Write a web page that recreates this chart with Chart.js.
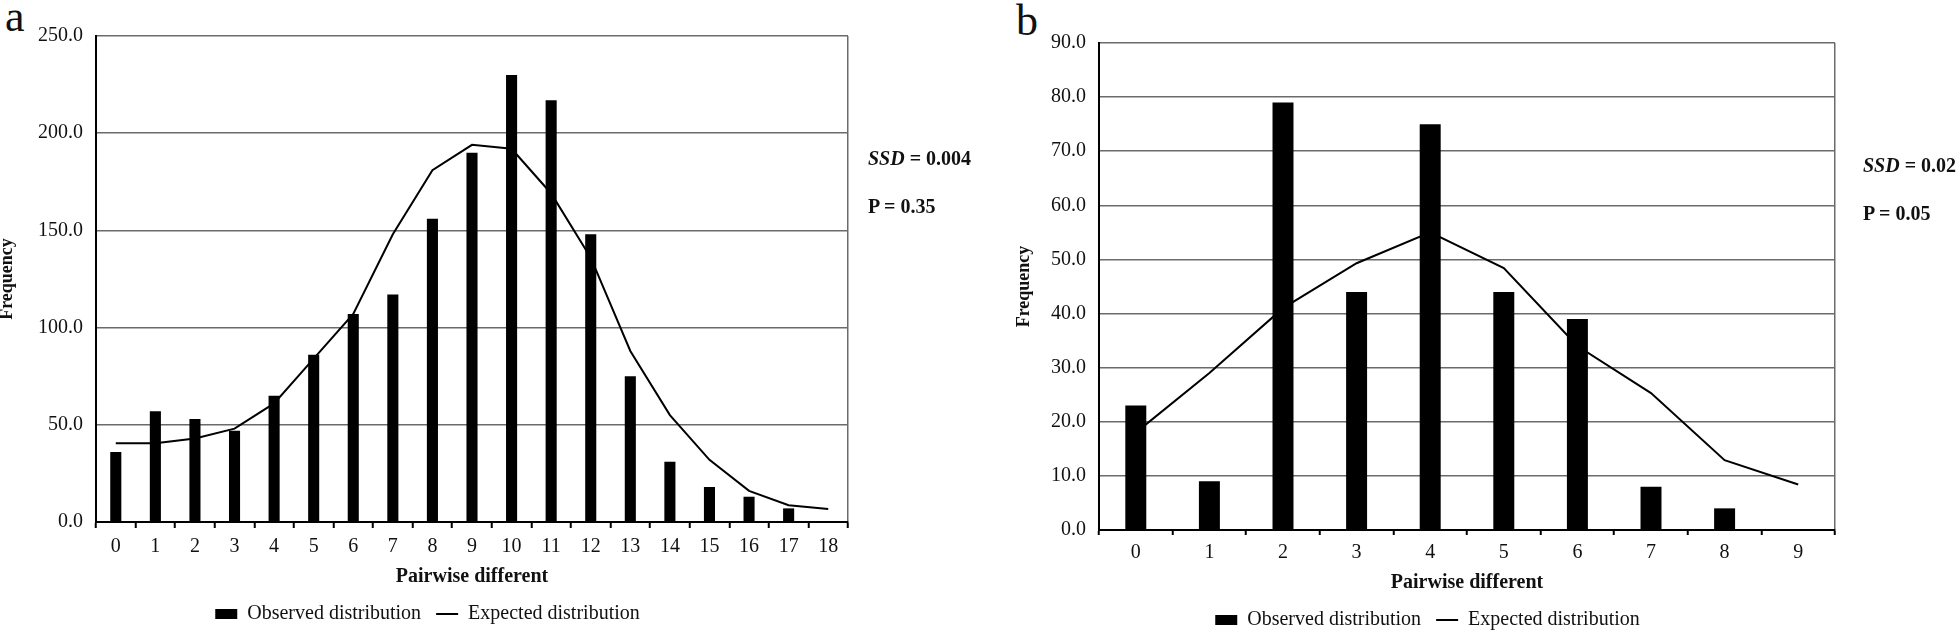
<!DOCTYPE html>
<html>
<head>
<meta charset="UTF-8">
<title>Mismatch distribution</title>
<script src="https://cdn.jsdelivr.net/npm/chart.js"></script>
<style>
  html, body { margin: 0; padding: 0; background: #fff; overflow: hidden; }
  body { width: 1960px; height: 634px; position: relative; font-family: 'Liberation Serif', 'Times New Roman', serif; color: #111; }
  canvas { position: absolute; top: 0; }
  .panel { position: absolute; font-size: 44px; line-height: 44px; }
  .note { position: absolute; font-size: 20px; line-height: 20px; font-weight: bold; white-space: nowrap; }
</style>
</head>
<body>
<div class="panel" style="left:5px;top:-5px">a</div>
<canvas id="chartA" width="870" height="634" style="left:0"></canvas>
<div class="note" style="left:868px;top:148px"><i>SSD</i> = 0.004</div>
<div class="note" style="left:868px;top:196px">P = 0.35</div>

<div class="panel" style="left:1016px;top:-1px">b</div>
<canvas id="chartB" width="870" height="640" style="left:1000px"></canvas>
<div class="note" style="left:1863px;top:155px"><i>SSD</i> = 0.02</div>
<div class="note" style="left:1863px;top:203px">P = 0.05</div>

<script>
// panel a
const labelsA = ['0','1','2','3','4','5','6','7','8','9','10','11','12','13','14','15','16','17','18'];
const observedA = [36, 57, 53, 47, 65, 86, 107, 117, 156, 190, 230, 217, 148, 75, 31, 18, 13, 7, 0];
const expectedA = [40.5, 40.5, 43, 48, 61, 84, 107, 148, 181, 194, 192, 169, 136, 88, 55, 32, 16, 8.6, 6.7];

// panel b
const labelsB = ['0','1','2','3','4','5','6','7','8','9'];
const observedB = [23, 9, 79, 44, 75, 44, 39, 8, 4, 0];
const expectedB = [18, 29, 41, 49.3, 55, 48.4, 34, 25.3, 12.9, 8.4];

const serif = "'Liberation Serif', 'Times New Roman', serif";
const gridGray = '#6b6b6b';

function makeChart(id, o) {
    return new Chart(document.getElementById(id), {
        data: {
            labels: o.labels,
            datasets: [
                {
                    type: 'bar',
                    label: 'Observed distribution',
                    data: o.observed,
                    backgroundColor: '#000',
                    borderWidth: 0,
                    pointStyle: 'rect',
                    barPercentage: o.barPct,
                    categoryPercentage: 1,
                    order: 1
                },
                {
                    type: 'line',
                    label: 'Expected distribution',
                    data: o.expected,
                    borderColor: '#000',
                    backgroundColor: '#000',
                    borderWidth: 2,
                    pointRadius: 0,
                    pointStyle: 'line',
                    tension: 0,
                    order: 0
                }
            ]
        },
        options: {
            responsive: false,
            animation: false,
            layout: { padding: { left: o.padLeft, right: o.padRight, top: o.padTop, bottom: 0 } },
            plugins: {
                legend: {
                    position: 'bottom',
                    labels: {
                        usePointStyle: true,
                        pointStyleWidth: 22,
                        boxHeight: 10,
                        padding: 15,
                        color: '#111',
                        font: { family: serif, size: 20 },
                        // keep bars first in the legend, even though the line is drawn on top
                        sort: (a, b) => a.datasetIndex - b.datasetIndex
                    }
                },
                tooltip: { enabled: false }
            },
            scales: {
                x: {
                    grid: {
                        offset: true,
                        // only the closing line on the right is drawn on the plot
                        color: c => c.type === 'tick' ? 'rgba(0,0,0,0)' : gridGray,
                        tickColor: '#000',
                        tickLength: o.tickLen,
                        lineWidth: 1.5,
                        tickWidth: 2
                    },
                    border: { color: '#000', width: 2 },
                    ticks: { color: '#111', font: { family: serif, size: 20 }, padding: o.tickPad, autoSkip: false, maxRotation: 0 },
                    title: {
                        display: true,
                        text: 'Pairwise different',
                        color: '#111',
                        font: { family: serif, size: 20, weight: 'bold' },
                        padding: { top: 0, bottom: 0 }
                    },
                    afterFit: s => { s.height = o.xHeight; }
                },
                y: {
                    min: 0,
                    max: o.yMax,
                    grid: { color: gridGray, lineWidth: 1.5, drawTicks: false },
                    border: { color: '#000', width: 2 },
                    ticks: {
                        stepSize: o.step,
                        padding: 13,
                        color: '#111',
                        font: { family: serif, size: 20 },
                        callback: v => v.toFixed(1)
                    },
                    title: {
                        display: true,
                        text: 'Frequency',
                        color: '#111',
                        font: { family: serif, size: 18, weight: 'bold' },
                        padding: { top: o.yTitlePad, bottom: 0 }
                    },
                    afterFit: s => { s.width = o.yWidth; }
                }
            }
        }
    });
}

makeChart('chartA', {
    labels: labelsA, observed: observedA, expected: expectedA,
    barPct: 0.28, yMax: 250, step: 50,
    padLeft: 7, padRight: 22, padTop: 36,
    yWidth: 89, xHeight: 67, tickLen: 6, tickPad: 7, yTitlePad: -10
});

makeChart('chartB', {
    labels: labelsB, observed: observedB, expected: expectedB,
    barPct: 0.285, yMax: 90, step: 10,
    padLeft: 20, padRight: 35, padTop: 43,
    yWidth: 79, xHeight: 65, tickLen: 5, tickPad: 6, yTitlePad: -6
});
</script>
</body>
</html>
